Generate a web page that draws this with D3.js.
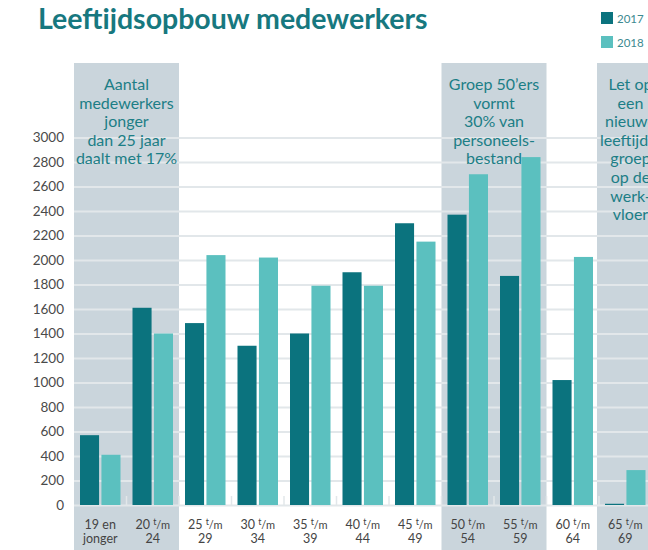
<!DOCTYPE html>
<html>
<head>
<meta charset="utf-8">
<script src="https://cdn.jsdelivr.net/npm/d3@7"></script>
<style>
  body { margin: 0; background: #fff; }
  svg { display: block; font-family: Lato, 'Open Sans', sans-serif; }
</style>
</head>
<body>
<div id="chart"></div>
<script>
// leeftijdsopbouw medewerkers
const categories = ['19 en jonger', '20 t/m 24', '25 t/m 29', '30 t/m 34', '35 t/m 39',
    '40 t/m 44', '45 t/m 49', '50 t/m 54', '55 t/m 59', '60 t/m 64', '65 t/m 69'];
const years = ['2017', '2018'];
const values2017 = [570, 1610, 1485, 1300, 1400, 1900, 2300, 2370, 1870, 1020, 10];
const values2018 = [410, 1400, 2040, 2020, 1790, 1790, 2150, 2700, 2840, 2025, 285];
const yTicks = d3.range(0, 3001, 200);

// shaded boxes: first category, span in groups, text lines
const boxStarts = ['19 en jonger', '50 t/m 54', '65 t/m 69'];
const boxSpans = [2, 2, 1.2];
const boxTexts = [
    ['Aantal', 'medewerkers', 'jonger', 'dan 25 jaar', 'daalt met 17%'],
    ['Groep 50’ers', 'vormt', '30% van', 'personeels-', 'bestand'],
    ['Let op', 'een', 'nieuwe', 'leeftijds-', 'groep', 'op de', 'werk-', 'vloer']
];

const COLORS = { '2017': '#0b737e', '2018': '#5bc0bf' };
const WIDTH = 648, HEIGHT = 550;

const svg = d3.select('#chart')
    .append('svg')
    .attr('width', WIDTH)
    .attr('height', HEIGHT);

const data = categories.map((c, i) => ({ name: c, '2017': values2017[i], '2018': values2018[i] }));

const x0 = d3.scaleBand()
    .domain(categories)
    .range([74, 74 + 52.5 * categories.length])
    .padding(0);

const x1 = d3.scaleBand()
    .domain(years)
    .range([6, 46.5])
    .paddingInner(0.11);

const yScale = d3.scaleLinear()
    .domain([0, 3000])
    .range([505, 137.5]);

// shaded boxes
svg.append('g')
    .selectAll('rect')
    .data(boxStarts)
    .enter()
    .append('rect')
    .attr('x', d => x0(d) - (d === '65 t/m 69' ? 2 : 0))
    .attr('y', 63)
    .attr('width', (d, i) => x0.step() * boxSpans[i])
    .attr('height', HEIGHT - 63)
    .attr('fill', '#cad5dc');

// gridlines + y labels
const yAxis = d3.axisLeft(yScale)
    .tickValues(yTicks)
    .tickFormat(d3.format('d'))
    .tickSize(-(WIDTH - 74))
    .tickPadding(10);

const yg = svg.append('g')
    .attr('transform', 'translate(74,0)')
    .call(yAxis);
yg.select('.domain').remove();
yg.selectAll('line')
    .attr('stroke', '#e2e7ea')
    .attr('stroke-width', 2);
yg.selectAll('text')
    .attr('fill', '#4a4a4a')
    .style('font-size', '13.5px')
    .style('font-family', 'Lato, sans-serif');

// small separators at group boundaries
svg.append('g')
    .selectAll('line')
    .data(categories.slice(1))
    .enter()
    .append('line')
    .attr('x1', d => x0(d))
    .attr('x2', d => x0(d))
    .attr('y1', yScale(0) - 9)
    .attr('y2', yScale(0))
    .attr('stroke', '#e2e7ea')
    .attr('stroke-width', 1.5);

// bars
svg.append('g')
    .selectAll('g')
    .data(data)
    .enter()
    .append('g')
    .attr('transform', d => `translate(${x0(d.name)},0)`)
    .selectAll('rect')
    .data(d => years.map(yr => ({ year: yr, value: d[yr] })))
    .enter()
    .append('rect')
    .attr('x', d => x1(d.year))
    .attr('y', d => yScale(d.value))
    .attr('width', x1.bandwidth())
    .attr('height', d => yScale(0) - yScale(d.value))
    .attr('fill', d => COLORS[d.year]);

// x axis labels
const xAxis = d3.axisBottom(x0).tickSize(0).tickFormat('');
const xg = svg.append('g')
    .attr('transform', `translate(0,${yScale(0)})`)
    .call(xAxis);
xg.select('.domain').remove();
xg.selectAll('.tick')
    .each(function(d) {
        const t = d3.select(this).append('text')
            .attr('fill', '#444')
            .attr('text-anchor', 'middle')
            .style('font-size', '12.5px')
            .style('font-family', 'Lato, sans-serif');
        if (d.includes('t/m')) {
            const parts = d.split(' t/m ');
            const l1 = t.append('tspan').attr('x', 0).attr('y', 24);
            l1.append('tspan').text(parts[0] + ' ');
            l1.append('tspan').text('t').style('font-size', '9px').attr('dy', -4);
            l1.append('tspan').text('/m').style('font-size', '11px').attr('dy', 4);
            t.append('tspan').attr('x', 0).attr('y', 38).text(parts[1]);
        } else {
            const parts = d.split(' jonger');
            t.append('tspan').attr('x', 0).attr('y', 24).text(parts[0]);
            t.append('tspan').attr('x', 0).attr('y', 38).text('jonger');
        }
    });

// annotation texts
boxStarts.forEach((b, i) => {
    const cx = x0(b) + x0.step() * boxSpans[i] / 2;
    svg.append('text')
        .attr('text-anchor', 'middle')
        .attr('fill', '#1c7e86')
        .style('font-size', '16px')
        .selectAll('tspan')
        .data(boxTexts[i])
        .enter()
        .append('tspan')
        .attr('x', cx)
        .attr('y', (d, j) => 90 + j * 18.6)
        .text(d => d);
});

// title
svg.append('text')
    .attr('x', 38)
    .attr('y', 29)
    .attr('fill', '#17787f')
    .style('font-size', '28.5px')
    .style('font-weight', 'bold')
    .text('Leeftijdsopbouw medewerkers');

// legend
const legend = svg.append('g')
    .selectAll('g')
    .data(years)
    .enter()
    .append('g')
    .attr('transform', (d, i) => `translate(601,${12 + i * 24})`);
legend.append('rect')
    .attr('width', 12)
    .attr('height', 12)
    .attr('fill', d => COLORS[d]);
legend.append('text')
    .attr('x', 16)
    .attr('y', 10.5)
    .attr('fill', '#3c8a90')
    .style('font-size', '11.5px')
    .text(d => d);
</script>
</body>
</html>
